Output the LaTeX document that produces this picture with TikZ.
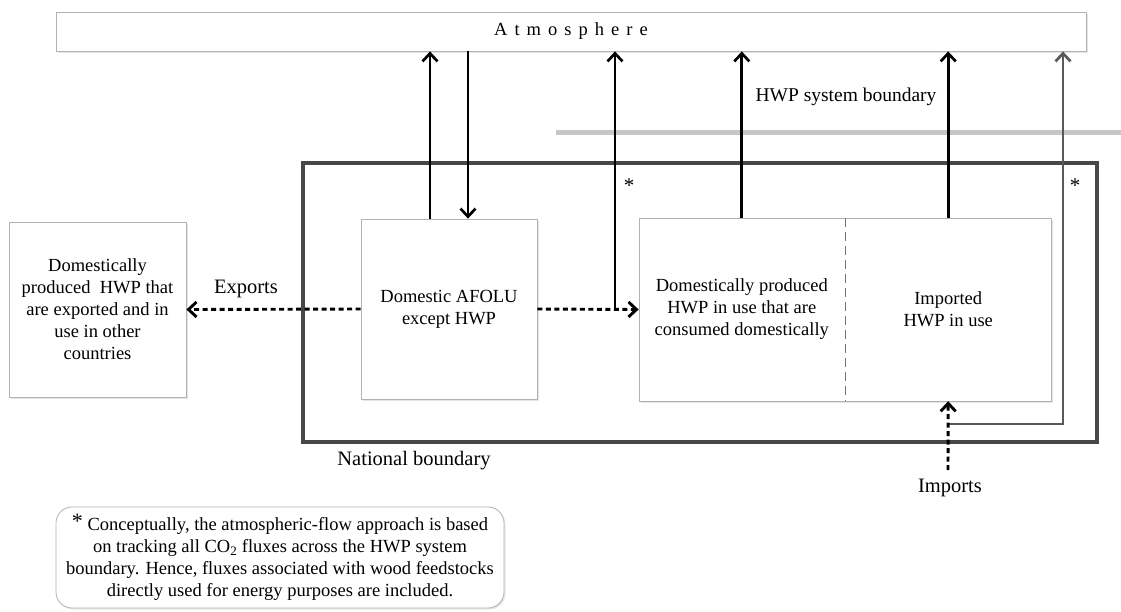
\documentclass[tikz,border=0pt]{standalone}
\usepackage{fontspec}
\setmainfont{Liberation Serif}
\usetikzlibrary{arrows.meta,shadows,calc}
\begin{document}
\begin{tikzpicture}[x=1pt,y=-1pt,
  box/.style={draw=black!30, line width=0.8pt, fill=white, align=center,
    font=\fontsize{18.5}{22}\selectfont, inner sep=2pt,
    drop shadow={shadow xshift=1.5pt, shadow yshift=-1.5pt, opacity=0.25, fill=black!40}},
  plain/.style={align=center, font=\fontsize{18.5}{22}\selectfont, inner sep=0pt},
  lab/.style={font=\fontsize{20.5}{24}\selectfont, inner sep=0pt},
  tipb/.style={-{Straight Barb[length=8pt,width=15pt]}},
  arr/.style={tipb, line width=2.7pt, black},
  garr/.style={tipb, line width=2.7pt, black!65},
  darr/.style={tipb, line width=2.9pt, black, dash pattern=on 5pt off 3.5pt},
]
\useasboundingbox (0,0) rectangle (1121,611);
% atmosphere
\node[box, minimum width=1030pt, minimum height=39pt, font=\fontsize{18.5}{22}\selectfont\addfontfeature{LetterSpace=38}] (atm) at (571,31.5) {Atmosphere};
% HWP system boundary line
\draw[line width=5pt, black!22] (556,132) -- (1121,132);
\node[lab, font=\fontsize{19.5}{24}\selectfont] (hwpb) at (846,97) {HWP system boundary};
% national boundary
\draw[line width=4.5pt, black!72] (303,163) rectangle (1097,442);
\node[lab] (natb) at (414,461) {National boundary};
% boxes
\node[box, minimum width=177pt, minimum height=175pt] (exp) at (97.5,309.5)
  {Domestically\\produced\ \ HWP that\\are exported and in\\use in other\\countries};
\node[box, minimum width=176pt, minimum height=180pt] (afolu) at (449,309)
  {Domestic AFOLU\\except HWP};
\node[box, minimum width=412pt, minimum height=183pt] (hwp) at (845,309.5) {};
\node[plain, minimum width=206pt, minimum height=183pt, anchor=west] (dom) at (hwp.west)
  {Domestically produced\\HWP in use that are\\consumed domestically};
\node[plain, minimum width=206pt, minimum height=183pt, anchor=east] (imp) at (hwp.east)
  {Imported\\HWP in use};
\draw[black!55, line width=0.9pt, dash pattern=on 9pt off 5pt] (hwp.north) -- (hwp.south);
% arrows
\coordinate (a1) at ($(afolu.north)+(-19,0)$);
\coordinate (a2) at ($(afolu.north)+(19,0)$);
\draw[arr] (a1) -- (a1 |- atm.south);
\draw[arr] (a2 |- atm.south) -- (a2);
\draw[darr] (afolu.west) -- (exp.east);
\node[lab] (exlab) at (246,289) {Exports};
\draw[darr] (afolu.east) -- (dom.west);
\coordinate (j) at (615,309);
\draw[arr] (j) -- (j |- atm.south);
\node[plain, font=\fontsize{21}{24}\selectfont] (s1) at (629,186) {*};
\draw[arr] (dom.north) -- (dom.north |- atm.south);
\draw[arr] (imp.north) -- (imp.north |- atm.south);
\coordinate (g1) at (948,424);
\coordinate (g2) at (1063,424);
\draw[garr] (g1) -- (g2) -- (g2 |- atm.south);
\node[plain, font=\fontsize{21}{24}\selectfont] (s2) at (1075,186) {*};
\coordinate (isrc) at (948,470);
\draw[darr] (isrc) -- (imp.south);
\node[lab] (implab) at (950,488) {Imports};
% footnote
\node[box, rounded corners=16pt, minimum width=448pt, minimum height=101pt] (note) at (280,557.5)
  {\raisebox{2pt}{\fontsize{22}{22}\selectfont *} Conceptually, the atmospheric-flow approach is based\\
   on tracking all CO\textsubscript{2} fluxes across the HWP system\\
   boundary. Hence, fluxes associated with wood feedstocks\\
   directly used for energy purposes are included.};
\end{tikzpicture}
\end{document}
